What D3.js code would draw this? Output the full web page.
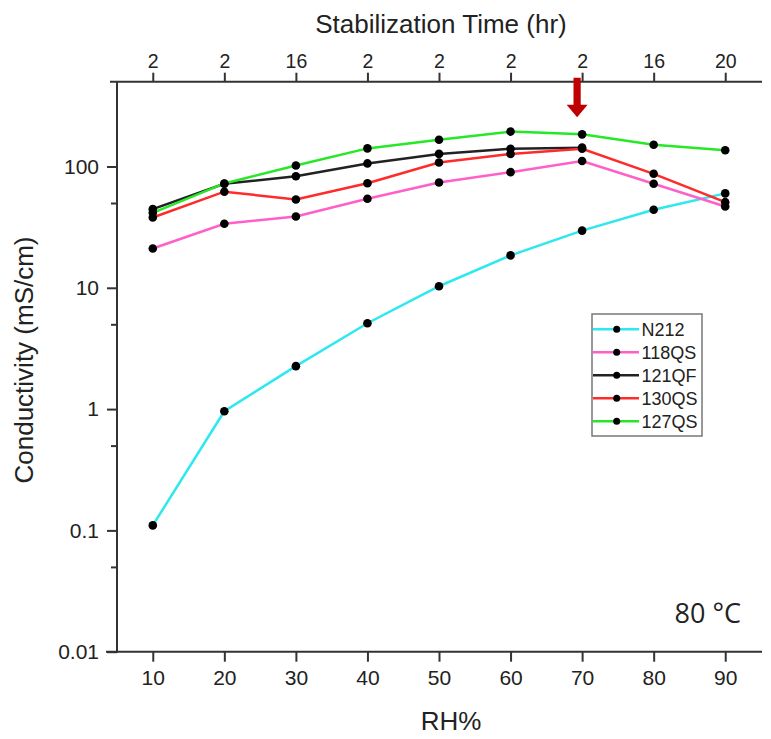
<!DOCTYPE html>
<html>
<head>
<meta charset="utf-8">
<script src="https://cdn.jsdelivr.net/npm/d3@7"></script>
<style>
  body { margin: 0; background: #fff; }
  svg { display: block; }
</style>
</head>
<body>
<svg width="771" height="739"></svg>
<script>
const rh = [10, 20, 30, 40, 50, 60, 70, 80, 90];
const stabTime = ["2", "2", "16", "2", "2", "2", "2", "16", "20"];
const yTicks = [0.01, 0.1, 1, 10, 100];
const yMinor = [0.05, 0.5, 5, 50];

const n212  = [0.11, 0.96, 2.26, 5.1, 10.3, 18.5, 29.6, 44, 60];
const qs118 = [21.1, 33.7, 38.7, 54.2, 73.8, 89.8, 111, 72, 46.8];
const qf121 = [44.5, 72, 83, 106, 127, 140, 143];
const qs130 = [38, 62, 53.5, 72.8, 108, 127, 140, 87, 50.8];
const qs127 = [41.5, 72.5, 102, 141, 166, 194, 184, 151, 136];

const series = [
  {name: "N212",  color: "#2ee8f0", values: n212},
  {name: "118QS", color: "#ff5fc8", values: qs118},
  {name: "121QF", color: "#222222", values: qf121},
  {name: "130QS", color: "#ff2a2a", values: qs130},
  {name: "127QS", color: "#27e827", values: qs127}
];

const svg = d3.select("svg");
const axisColor = "#333";
const font = "'Liberation Sans', Arial, sans-serif";

const x = d3.scaleLinear().domain([5, 95]).range([117, 761]);
const y = d3.scaleLog().domain([0.01, 500]).range([651.7, 81.7]);

const plotTop = y.range()[1], plotBottom = y.range()[0], plotLeft = x(5);

// axis lines
svg.append("line").attr("x1", 106).attr("x2", 762).attr("y1", plotBottom).attr("y2", plotBottom)
  .attr("stroke", axisColor).attr("stroke-width", 2);
svg.append("line").attr("x1", 110).attr("x2", 762).attr("y1", plotTop).attr("y2", plotTop)
  .attr("stroke", axisColor).attr("stroke-width", 2);
svg.append("line").attr("x1", plotLeft).attr("x2", plotLeft).attr("y1", plotTop).attr("y2", plotBottom + 1)
  .attr("stroke", axisColor).attr("stroke-width", 2);

// bottom axis
const gx = svg.append("g").attr("transform", `translate(0,${plotBottom})`)
  .call(d3.axisBottom(x).tickValues(rh).tickSize(10).tickPadding(8));
// top axis
const gt = svg.append("g").attr("transform", `translate(0,${plotTop})`)
  .call(d3.axisTop(x).tickValues(rh).tickSize(9).tickPadding(5)
    .tickFormat((d, i) => stabTime[i]));
// left axis
const gy = svg.append("g").attr("transform", `translate(${plotLeft},0)`)
  .call(d3.axisLeft(y).tickValues(yTicks).tickSize(10).tickPadding(8)
    .tickFormat(d => d3.format("~g")(d)));
svg.append("g").attr("transform", `translate(${plotLeft},0)`)
  .call(d3.axisLeft(y).tickValues(yMinor).tickSize(6).tickFormat(""))
  .call(g => g.select(".domain").remove())
  .selectAll("line").attr("stroke", axisColor).attr("stroke-width", 2);

[gx, gt, gy].forEach(g => {
  g.select(".domain").remove();
  g.selectAll("line").attr("stroke", axisColor).attr("stroke-width", 2);
  g.selectAll("text").attr("fill", "#222").style("font-family", font).style("font-size", "21px");
});
gt.selectAll("text").style("font-size", "19.5px");

// axis titles
svg.append("text").attr("x", 441).attr("y", 33).attr("text-anchor", "middle")
  .style("font-family", font).style("font-size", "26px").attr("fill", "#222")
  .text("Stabilization Time (hr)");
svg.append("text").attr("x", 451).attr("y", 730).attr("text-anchor", "middle")
  .style("font-family", font).style("font-size", "26px").attr("fill", "#222")
  .text("RH%");
svg.append("text").attr("transform", "translate(33,360) rotate(-90)").attr("text-anchor", "middle")
  .style("font-family", font).style("font-size", "26px").attr("fill", "#222")
  .text("Conductivity (mS/cm)");

// lines and points
const line = d3.line().x((d, i) => x(rh[i])).y(d => y(d));
series.forEach(s => {
  svg.append("path").attr("d", line(s.values))
    .attr("fill", "none").attr("stroke", s.color).attr("stroke-width", 2.5);
});
series.forEach(s => {
  svg.selectAll(null).data(s.values).join("circle")
    .attr("cx", (d, i) => x(rh[i])).attr("cy", d => y(d)).attr("r", 4.3)
    .attr("fill", "#000");
});

// legend
const lg = svg.append("g").attr("transform", "translate(592,314)");
lg.append("rect").attr("width", 110).attr("height", 122)
  .attr("fill", "#fff").attr("stroke", "#777").attr("stroke-width", 1.5);
series.forEach((s, i) => {
  const yy = 15.3 + i * 23;
  lg.append("line").attr("x1", 1).attr("x2", 47).attr("y1", yy).attr("y2", yy)
    .attr("stroke", s.color).attr("stroke-width", 2.5);
  lg.append("circle").attr("cx", 24.7).attr("cy", yy).attr("r", 3.5).attr("fill", "#000");
  lg.append("text").attr("x", 49.5).attr("y", yy).attr("dy", "0.36em")
    .style("font-family", font).style("font-size", "18px").attr("fill", "#222")
    .text(s.name);
});

// arrow at 70% RH
const ax = x(70) - 5;
svg.append("path")
  .attr("d", `M${ax - 3.6},${plotTop - 4} L${ax + 3.6},${plotTop - 4} L${ax + 3.6},${plotTop + 23} L${ax + 10.5},${plotTop + 23} L${ax},${plotTop + 35.5} L${ax - 10.5},${plotTop + 23} L${ax - 3.6},${plotTop + 23} Z`)
  .attr("fill", "#c00000");

// temperature label
svg.append("text").attr("x", 741).attr("y", 623).attr("text-anchor", "end")
  .style("font-family", "'Open Sans', sans-serif").style("font-size", "27px").attr("fill", "#222")
  .text("80 °C");
</script>
</body>
</html>
